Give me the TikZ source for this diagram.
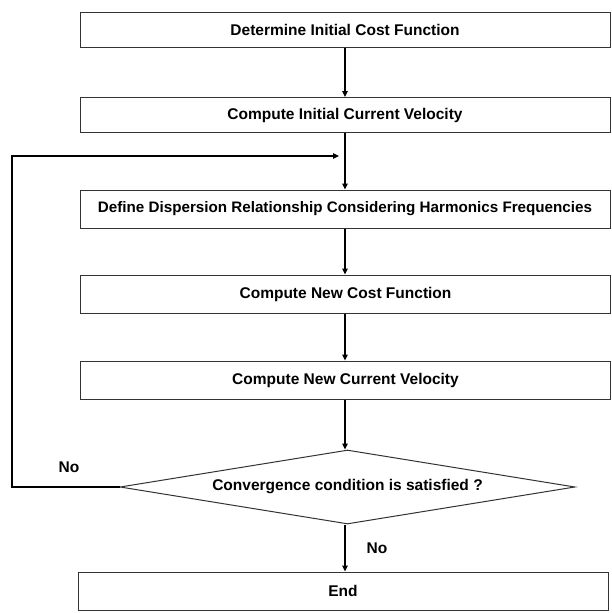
\documentclass[tikz,border=0pt]{standalone}
\usepackage{fontspec}
\setmainfont{Liberation Sans}
\usetikzlibrary{shapes.geometric,arrows.meta}
\begin{document}
\begin{tikzpicture}[x=1pt,y=-1pt,
  stepbox/.style={draw=black!80,line width=1pt,minimum width=530pt,minimum height=35pt,inner sep=0pt,font=\fontsize{15.5}{17}\selectfont\bfseries},
  conn/.style={line width=1.4pt,-{Triangle[length=6pt,width=5.5pt]}},
  lbl/.style={font=\fontsize{15.5}{17}\selectfont\bfseries}]
\useasboundingbox (0,0) rectangle (612,613);
\node[stepbox] (b1) at (345,30) {Determine Initial Cost Function};
\node[stepbox] (b2) at (345,115) {Compute Initial Current Velocity};
\node[stepbox,minimum height=38pt,font=\fontsize{15.2}{17}\selectfont\bfseries] (b3) at (345,209) {Define Dispersion Relationship Considering Harmonics Frequencies};
\node[stepbox,minimum height=38pt] (b4) at (345.5,294) {Compute New Cost Function};
\node[stepbox,minimum height=38pt] (b5) at (345.5,380) {Compute New Current Velocity};
\node[diamond,draw=black!80,line width=1pt,aspect=6.15,minimum width=455pt,minimum height=74pt,inner sep=0pt,font=\fontsize{15.5}{17}\selectfont\bfseries] (d) at (347.5,487) {Convergence condition is satisfied ?};
\node[stepbox,minimum height=38pt] (e) at (343,591) {End};
\coordinate (m) at (345,156);
\coordinate (l1) at (12,487);
\coordinate (l2) at (12,156);
\draw[conn] (b1.south -| 345,0) -- (b2.north -| 345,0);
\draw[conn] (b2.south -| 345,0) -- (b3.north -| 345,0);
\draw[conn] (b3.south -| 345,0) -- (b4.north -| 345,0);
\draw[conn] (b4.south -| 345,0) -- (b5.north -| 345,0);
\draw[conn] (b5.south -| 345,0) -- (d.north -| 345,0);
\draw[conn] (d.south -| 345,0) -- (e.north -| 345,0);
\draw[conn] (d.west) -- (l1) -- (l2) -- ([xshift=-6pt]m);
\node[lbl] (n1) at (69,467) {No};
\node[lbl] (n2) at (377,548) {No};
\end{tikzpicture}
\end{document}
